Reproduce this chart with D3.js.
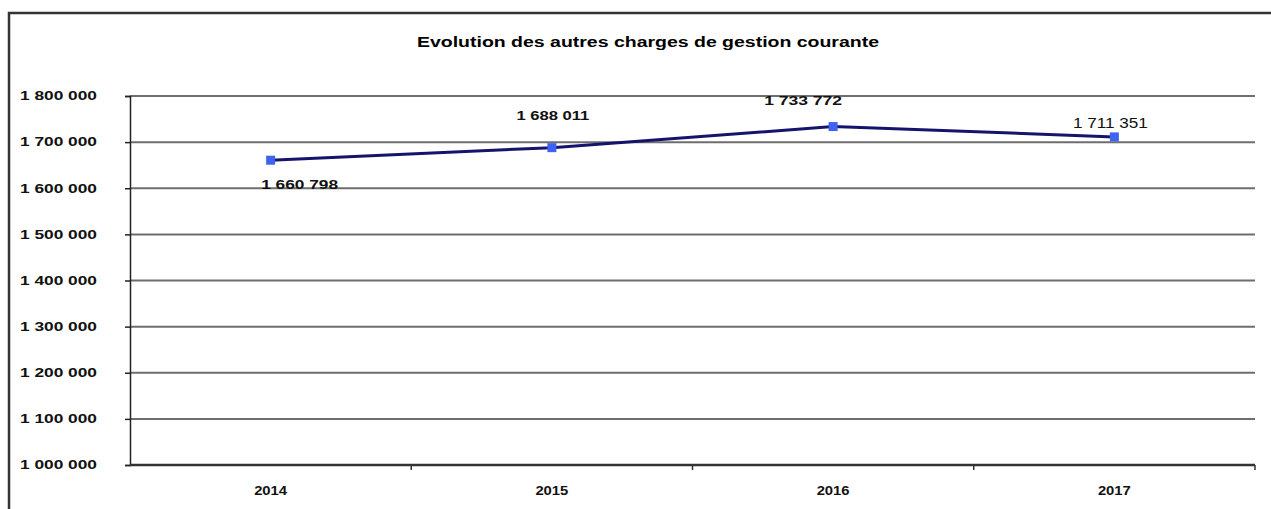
<!DOCTYPE html>
<html>
<head>
<meta charset="utf-8">
<script src="https://cdn.jsdelivr.net/npm/d3@7"></script>
<style>
    body { margin: 0; background: #fff; }
    svg { display: block; font-family: "Liberation Sans", Arial, sans-serif; }
</style>
</head>
<body>
<div id="chart"></div>
<script>
// Chart data
const title = "Evolution des autres charges de gestion courante";
const years = ["2014", "2015", "2016", "2017"];
const charges = [1660798, 1688011, 1733772, 1711351];
const yTicks = [1000000, 1100000, 1200000, 1300000, 1400000, 1500000, 1600000, 1700000, 1800000];

// Label placement relative to each point (dx, dy, font size, drawn width)
const labelOffsets = [
    { dx: 29, dy: 29, size: 13, len: 77 },
    { dx: 1, dy: -28, size: 13, len: 73 },
    { dx: -30, dy: -22, size: 13, len: 78 },
    { dx: -4, dy: -9, size: 15, len: 75 }
];

const width = 1271;
const height = 509;
const margin = { top: 96, left: 130, right: 16, bottom: 44 };

// French style thousands separator
const fmt = d => d3.format(",")(d).replace(/,/g, " ");

const svg = d3.select("#chart").append("svg")
    .attr("width", width)
    .attr("height", height);

// Outer frame (right and bottom edges fall outside the picture)
svg.append("path")
    .attr("d", "M9," + (height + 5) + "V13H" + (width + 5))
    .style("fill", "none")
    .style("stroke", "#333")
    .style("stroke-width", 2.5);

const x = d3.scaleBand()
    .domain(years)
    .range([margin.left, width - margin.right]);

const y = d3.scaleLinear()
    .domain([1000000, 1800000])
    .range([height - margin.bottom, margin.top]);

// Title
svg.append("text")
    .attr("x", 648)
    .attr("y", 47)
    .attr("text-anchor", "middle")
    .attr("textLength", 462)
    .attr("lengthAdjust", "spacingAndGlyphs")
    .style("font-size", "14px")
    .style("font-weight", "bold")
    .text(title);

// Horizontal gridlines
svg.append("g")
    .selectAll("line")
    .data(yTicks.slice(1))
    .join("line")
    .attr("x1", margin.left)
    .attr("x2", width - margin.right)
    .attr("y1", d => y(d))
    .attr("y2", d => y(d))
    .style("stroke", "#6e6e6e")
    .style("stroke-width", 2);

// Y axis
const yAxis = svg.append("g")
    .attr("transform", "translate(" + margin.left + ",0)")
    .call(d3.axisLeft(y).tickValues(yTicks).tickFormat(fmt).tickSize(5).tickPadding(28));
yAxis.select(".domain").style("stroke", "#222").style("stroke-width", 1.5);
yAxis.selectAll(".tick line").style("stroke", "#222").style("stroke-width", 1.5);
yAxis.selectAll(".tick text")
    .attr("textLength", 77)
    .attr("lengthAdjust", "spacingAndGlyphs")
    .style("font-size", "12px")
    .style("font-weight", "bold")
    .style("fill", "#111");

// X axis, ticks between categories
const xAxis = svg.append("g")
    .attr("transform", "translate(0," + y(1000000) + ")");
xAxis.append("line")
    .attr("x1", margin.left)
    .attr("x2", width - margin.right)
    .style("stroke", "#333")
    .style("stroke-width", 2.5);
xAxis.selectAll(".sep")
    .data(years)
    .join("line")
    .attr("class", "sep")
    .attr("x1", d => x(d) + x.bandwidth())
    .attr("x2", d => x(d) + x.bandwidth())
    .attr("y1", 0)
    .attr("y2", 5)
    .style("stroke", "#333")
    .style("stroke-width", 1.5);
xAxis.selectAll(".lbl")
    .data(years)
    .join("text")
    .attr("class", "lbl")
    .attr("x", d => x(d) + x.bandwidth() / 2)
    .attr("y", 30)
    .attr("text-anchor", "middle")
    .attr("textLength", 33)
    .attr("lengthAdjust", "spacingAndGlyphs")
    .style("font-size", "13px")
    .style("font-weight", "bold")
    .style("fill", "#111")
    .text(d => d);

// Series line
const points = years.map((d, i) => ({ year: d, value: charges[i] }));
const line = d3.line()
    .x(d => x(d.year) + x.bandwidth() / 2)
    .y(d => y(d.value));

svg.append("path")
    .attr("d", line(points))
    .style("fill", "none")
    .style("stroke", "#14146e")
    .style("stroke-width", 3);

// Square markers
svg.append("g")
    .selectAll("rect")
    .data(points)
    .join("rect")
    .attr("x", d => x(d.year) + x.bandwidth() / 2 - 4.5)
    .attr("y", d => y(d.value) - 4.5)
    .attr("width", 9)
    .attr("height", 9)
    .style("fill", "#3d63f0");

// Data labels
svg.append("g")
    .selectAll("text")
    .data(points)
    .join("text")
    .attr("x", (d, i) => x(d.year) + x.bandwidth() / 2 + labelOffsets[i].dx)
    .attr("y", (d, i) => y(d.value) + labelOffsets[i].dy)
    .attr("text-anchor", "middle")
    .attr("textLength", (d, i) => labelOffsets[i].len)
    .attr("lengthAdjust", "spacingAndGlyphs")
    .style("font-size", (d, i) => labelOffsets[i].size + "px")
    .style("font-weight", (d, i) => i === 3 ? "normal" : "bold")
    .style("fill", "#111")
    .text(d => fmt(d.value));
</script>
</body>
</html>
